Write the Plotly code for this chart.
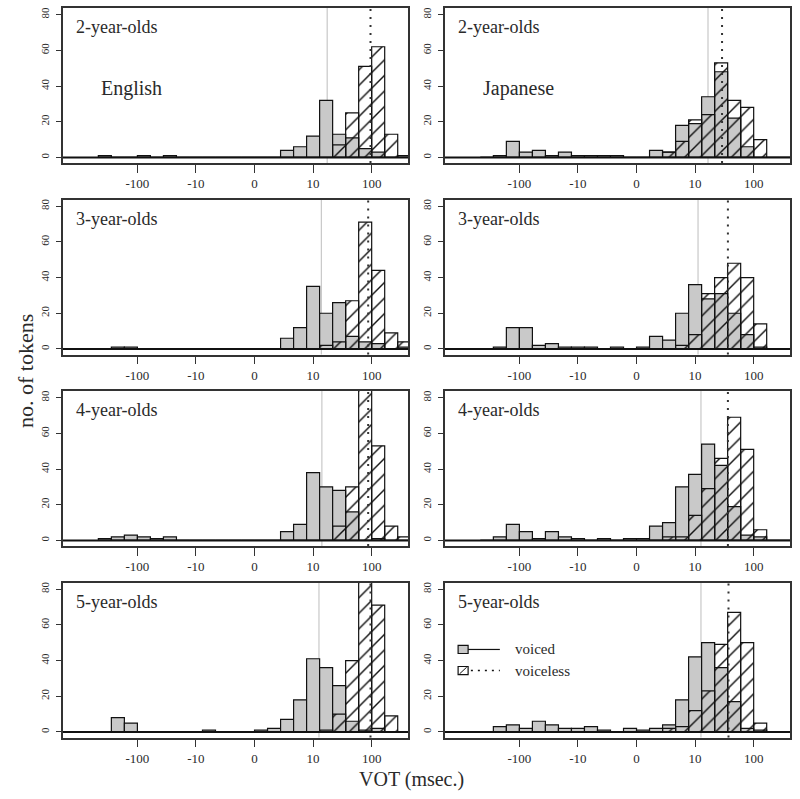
import plotly.graph_objects as go

# ---------------- data ----------------
# bins are equal-width on the transformed VOT axis (axis units: -100->-2, -10->-1, 0->0, 10->1, 100->2)
BIN_WIDTH = 2 / 9
bin_index = list(range(-12, 12))          # bin k spans [k*BIN_WIDTH, (k+1)*BIN_WIDTH]
tick_pos = [-2, -1, 0, 1, 2]
tick_labels = ["-100", "-10", "0", "10", "100"]
y_ticks = [0, 20, 40, 60, 80]
ages = ["2-year-olds", "3-year-olds", "4-year-olds", "5-year-olds"]
languages = ["English", "Japanese"]

#                k: -12 ...                        -1 | 0 ...                              11
eng2_voiced    = [1, 0, 0, 1, 0, 1, 0, 0, 0, 0, 0, 0,  0, 0, 4, 6, 12, 32, 13, 11, 5, 3, 0, 0]
eng2_voiceless = [0, 0, 0, 0, 0, 0, 0, 0, 0, 0, 0, 0,  0, 0, 0, 0, 0, 0, 7, 25, 51, 62, 13, 1]
jpn2_voiced    = [0, 1, 9, 3, 4, 1, 3, 1, 1, 1, 1, 0,  0, 4, 3, 18, 19, 34, 48, 22, 6, 0, 0, 0]
jpn2_voiceless = [0, 0, 0, 0, 0, 0, 0, 0, 0, 0, 0, 0,  0, 0, 3, 9, 21, 24, 53, 32, 28, 10, 0, 0]
eng3_voiced    = [0, 1, 1, 0, 0, 0, 0, 0, 0, 0, 0, 0,  0, 0, 6, 12, 35, 20, 26, 7, 4, 3, 0, 1]
eng3_voiceless = [0, 0, 0, 0, 0, 0, 0, 0, 0, 0, 0, 0,  0, 0, 0, 0, 0, 2, 4, 27, 71, 44, 9, 4]
jpn3_voiced    = [0, 1, 12, 12, 2, 3, 1, 1, 1, 0, 1, 0,  1, 7, 5, 20, 36, 28, 31, 20, 8, 1, 0, 0]
jpn3_voiceless = [0, 0, 0, 0, 0, 0, 0, 0, 0, 0, 0, 0,  0, 0, 0, 2, 8, 31, 40, 48, 40, 14, 0, 0]
eng4_voiced    = [1, 2, 3, 2, 1, 2, 0, 0, 0, 0, 0, 0,  0, 0, 5, 9, 38, 30, 28, 16, 0, 1, 0, 0]
eng4_voiceless = [0, 0, 0, 0, 0, 0, 0, 0, 0, 0, 0, 0,  0, 0, 0, 0, 0, 0, 8, 30, 95, 53, 8, 2]
jpn4_voiced    = [0, 2, 9, 5, 1, 5, 2, 1, 0, 1, 0, 1,  1, 8, 10, 30, 37, 54, 42, 19, 3, 2, 0, 0]
jpn4_voiceless = [0, 0, 0, 0, 0, 0, 0, 0, 0, 0, 0, 0,  0, 0, 2, 2, 14, 29, 46, 69, 51, 6, 0, 0]
eng5_voiced    = [0, 8, 5, 0, 0, 0, 0, 0, 1, 0, 0, 0,  1, 2, 7, 18, 41, 36, 26, 6, 1, 2, 0, 0]
eng5_voiceless = [0, 0, 0, 0, 0, 0, 0, 0, 0, 0, 0, 0,  0, 0, 0, 0, 0, 1, 10, 40, 92, 71, 9, 0]
jpn5_voiced    = [0, 3, 4, 2, 6, 4, 2, 2, 3, 1, 0, 2,  1, 2, 4, 18, 42, 50, 36, 17, 2, 1, 0, 0]
jpn5_voiceless = [0, 0, 0, 0, 0, 0, 0, 0, 0, 0, 0, 0,  0, 0, 2, 3, 12, 23, 49, 67, 50, 5, 0, 0]

# mean VOT positions (axis units) for the vertical reference lines
eng_voiced_mean    = [1.24, 1.14, 1.15, 1.10]
eng_voiceless_mean = [1.98, 1.94, 1.94, 1.98]
jpn_voiced_mean    = [1.22, 1.05, 1.10, 1.10]
jpn_voiceless_mean = [1.46, 1.56, 1.56, 1.57]

panels = [
    [(eng2_voiced, eng2_voiceless), (jpn2_voiced, jpn2_voiceless)],
    [(eng3_voiced, eng3_voiceless), (jpn3_voiced, jpn3_voiceless)],
    [(eng4_voiced, eng4_voiceless), (jpn4_voiced, jpn4_voiceless)],
    [(eng5_voiced, eng5_voiceless), (jpn5_voiced, jpn5_voiceless)],
]
means = [(eng_voiced_mean, eng_voiceless_mean), (jpn_voiced_mean, jpn_voiceless_mean)]

# ---------------- styling / layout ----------------
W, H = 800, 799
FONT = "Liberation Serif, Times New Roman, serif"
TXT = "#2a2a2a"
GRAY = "#c9c9c9"
col_left = [63, 445]
col_w = 345
row_top = [8, 199.5, 391, 582.5]
row_h = 155

centers = [(k + 0.5) * BIN_WIDTH for k in bin_index]

fig = go.Figure()
layout = dict(
    width=W, height=H, autosize=False,
    margin=dict(l=0, r=0, t=0, b=0),
    paper_bgcolor="white", plot_bgcolor="white",
    barmode="overlay", showlegend=False,
    font=dict(family=FONT, color=TXT),
)
shapes = []
annotations = []

for r in range(4):
    for c in range(2):
        i = r * 2 + c + 1
        xa = "x" if i == 1 else f"x{i}"
        ya = "y" if i == 1 else f"y{i}"
        voiced, voiceless = panels[r][c]
        fig.add_trace(go.Bar(
            x=centers, y=voiced, width=BIN_WIDTH, xaxis=xa, yaxis=ya,
            marker=dict(color=GRAY, line=dict(color="#111", width=1.2)),
            name="voiced"))
        fig.add_trace(go.Bar(
            x=centers, y=voiceless, width=BIN_WIDTH, xaxis=xa, yaxis=ya,
            marker=dict(color="rgba(0,0,0,0)", line=dict(color="#111", width=1.2),
                        pattern=dict(shape="/", fgcolor="#111", bgcolor="rgba(0,0,0,0)",
                                     size=11, solidity=0.13, fillmode="replace")),
            name="voiceless"))

        x0 = col_left[c] / W
        x1 = (col_left[c] + col_w) / W
        y1 = 1 - row_top[r] / H
        y0 = 1 - (row_top[r] + row_h) / H
        layout["xaxis" if i == 1 else f"xaxis{i}"] = dict(
            domain=[x0, x1], range=[-3.27, 2.62], anchor=ya,
            tickvals=tick_pos, ticktext=tick_labels,
            ticks="outside", ticklen=8, tickwidth=1, tickcolor="#333",
            ticklabelstandoff=0,
            showline=True, mirror=True, linecolor="#333", linewidth=1.5,
            showgrid=False, zeroline=False,
            tickfont=dict(family=FONT, size=13, color=TXT))
        layout["yaxis" if i == 1 else f"yaxis{i}"] = dict(
            domain=[y0, y1], range=[-3.1, 83.7], anchor=xa,
            tickvals=y_ticks, ticks="outside", ticklen=5, tickwidth=1, tickcolor="#333",
            tickangle=-90, ticklabelstandoff=3,
            showline=True, mirror=True, linecolor="#333", linewidth=1.5,
            showgrid=False, zeroline=False,
            tickfont=dict(family=FONT, size=11, color=TXT))

        # baseline at 0
        shapes.append(dict(type="line", xref=f"{xa} domain", yref=ya,
                           x0=0, x1=1, y0=0, y1=0, line=dict(color="#111", width=2)))
        # mean lines
        vm, vlm = means[c]
        shapes.append(dict(type="line", xref=xa, yref=f"{ya} domain",
                           x0=vm[r], x1=vm[r], y0=0, y1=1,
                           line=dict(color="#bdbdbd", width=1), layer="below"))
        shapes.append(dict(type="line", xref=xa, yref=f"{ya} domain",
                           x0=vlm[r], x1=vlm[r], y0=0, y1=1,
                           line=dict(color="#333", width=2, dash="2px,6px")))
        # age label
        annotations.append(dict(text=ages[r], xref=f"{xa} domain", yref=f"{ya} domain",
                                x=0.033, y=0.875, xanchor="left", yanchor="middle",
                                showarrow=False, font=dict(family=FONT, size=18, color=TXT)))
        if r == 0:
            annotations.append(dict(text=languages[c], xref=f"{xa} domain", yref=f"{ya} domain",
                                    x=0.105, y=0.48, xanchor="left", yanchor="middle",
                                    showarrow=False, font=dict(family=FONT, size=20, color=TXT)))

# legend (in the Japanese 5-year-olds panel)
lx, ly = "x8 domain", "y8 domain"
shapes += [
    dict(type="rect", xref=lx, yref=ly, x0=0.038, x1=0.067, y0=0.542, y1=0.594,
         fillcolor=GRAY, line=dict(color="#111", width=1.2)),
    dict(type="line", xref=lx, yref=ly, x0=0.067, x1=0.159, y0=0.568, y1=0.568,
         line=dict(color="#111", width=1.2)),
    dict(type="rect", xref=lx, yref=ly, x0=0.038, x1=0.067, y0=0.406, y1=0.458,
         fillcolor="white", line=dict(color="#111", width=1.2)),
    dict(type="line", xref=lx, yref=ly, x0=0.042, x1=0.063, y0=0.41, y1=0.454,
         line=dict(color="#111", width=1)),
    dict(type="line", xref=lx, yref=ly, x0=0.075, x1=0.159, y0=0.432, y1=0.432,
         line=dict(color="#111", width=1.5, dash="2px,5px")),
]
annotations += [
    dict(text="voiced", xref=lx, yref=ly, x=0.197, y=0.568, xanchor="left", yanchor="middle",
         showarrow=False, font=dict(family=FONT, size=15, color=TXT)),
    dict(text="voiceless", xref=lx, yref=ly, x=0.197, y=0.432, xanchor="left", yanchor="middle",
         showarrow=False, font=dict(family=FONT, size=15, color=TXT)),
]

# axis titles
annotations += [
    dict(text="VOT (msec.)", xref="paper", yref="paper", x=411 / W, y=1 - 779 / H,
         xanchor="center", yanchor="middle", showarrow=False,
         font=dict(family=FONT, size=20, color=TXT)),
    dict(text="no. of tokens", xref="paper", yref="paper", x=25 / W, y=1 - 371 / H,
         xanchor="center", yanchor="middle", showarrow=False, textangle=-90,
         font=dict(family=FONT, size=22, color=TXT)),
]

layout["shapes"] = shapes
layout["annotations"] = annotations
fig.update_layout(**layout)
fig.write_html("out.html", config={"displayModeBar": False},
               post_script="document.body.style.margin='0';document.body.style.overflow='hidden';")
